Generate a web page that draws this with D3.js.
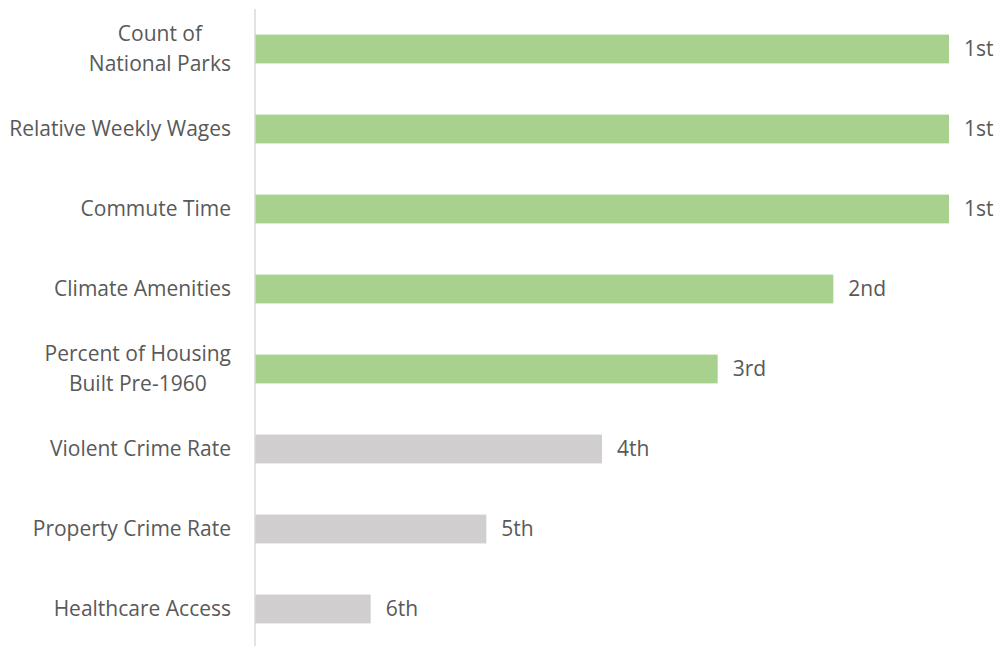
<!DOCTYPE html>
<html><head><meta charset="utf-8">
<script src="https://cdn.jsdelivr.net/npm/d3@7"></script>
<style>body{margin:0;background:#fff}svg{display:block}text{font-family:"Open Sans",sans-serif;fill:#595959}</style>
</head><body><svg id="c" width="998" height="646"></svg>
<script>
const categories = [["Count of","National Parks"],["Relative Weekly Wages"],["Commute Time"],["Climate Amenities"],["Percent of Housing","Built Pre-1960"],["Violent Crime Rate"],["Property Crime Rate"],["Healthcare Access"]];
const scores = [6,6,6,5,4,3,2,1];
const rankLabels = ["1st","1st","1st","2nd","3rd","4th","5th","6th"];
const highlighted = [true,true,true,true,true,false,false,false];

const svg = d3.select("#c");
const x0 = 255, x1 = 949;
const x = d3.scaleLinear().domain([0,6]).range([x0,x1]);
const y = d3.scaleBand().domain(d3.range(categories.length)).range([9,649]).paddingInner(0.64).paddingOuter(0.32);

svg.selectAll("rect.bar").data(scores).join("rect").attr("class","bar")
  .attr("x",x(0)).attr("y",(d,i)=>y(i)).attr("width",d=>x(d)-x(0)).attr("height",y.bandwidth())
  .attr("fill",(d,i)=>highlighted[i]?"#A9D18E":"#D0CECE");

svg.append("line").attr("x1",x0).attr("x2",x0).attr("y1",9).attr("y2",646).attr("stroke","#D9D9D9").attr("stroke-width",1.5);

const fs = 21;
const lab = svg.selectAll("text.cat").data(categories).join("text").attr("class","cat")
  .attr("font-size",fs).attr("text-anchor","middle");
lab.each(function(lines,i){
  const t = d3.select(this);
  const cy = y(i)+y.bandwidth()/2;
  const lh = 30;
  lines.forEach((l,j)=>{
    t.append("tspan").attr("x",0).attr("y",cy + (j-(lines.length-1)/2)*lh).attr("dy","0.35em").text(l);
  });
  const w = this.getBBox().width;
  t.attr("transform",`translate(${231 - w/2},0)`);
});

svg.selectAll("text.val").data(scores).join("text").attr("class","val")
  .attr("font-size",fs).attr("x",d=>x(d)+15).attr("y",(d,i)=>y(i)+y.bandwidth()/2).attr("dy","0.35em")
  .text((d,i)=>rankLabels[i]);
</script></body></html>
